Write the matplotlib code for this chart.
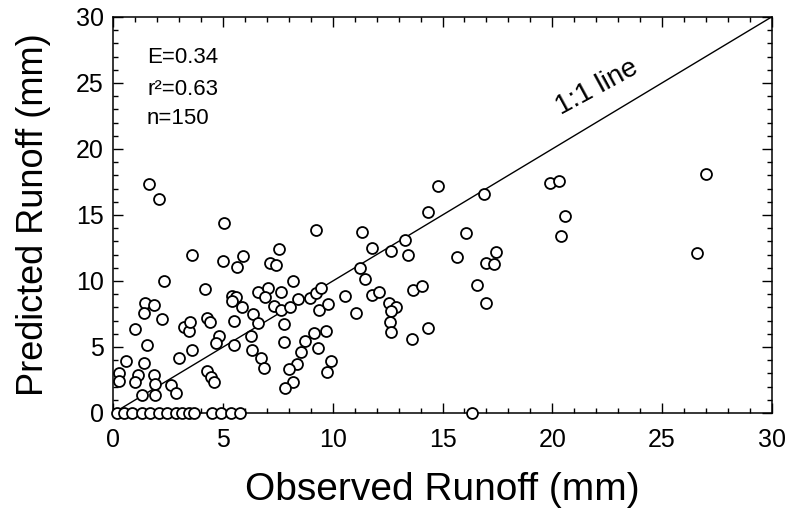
import matplotlib
matplotlib.use("Agg")
import matplotlib.pyplot as plt
from matplotlib.ticker import MultipleLocator

plt.rcParams['font.family'] = ['Liberation Sans', 'DejaVu Sans']

# Observed (x) and predicted (y) runoff, mm
zero_obs = [0.15, 0.46, 0.84, 1.3, 1.68, 2.06, 2.44, 2.83, 3.13, 3.44, 3.66,
            4.5, 4.89, 5.34, 5.77, 16.34]
zero_pred = [0.0] * len(zero_obs)

low_left_obs = [0.23, 0.23, 0.58, 1.1, 0.99, 1.37, 1.53, 1.83, 1.91, 1.3, 1.91,
                2.6, 2.83, 2.98, 3.59]
low_left_pred = [3.0, 2.42, 3.95, 2.88, 2.32, 3.78, 5.13, 2.88, 2.17, 1.4, 1.35,
                 2.12, 1.48, 4.2, 4.8]

mid_left_obs = [1.6, 2.06, 5.04, 3.59, 5.01, 5.92, 5.65, 2.29, 4.17, 1.45, 1.83,
                1.37, 2.21, 0.96, 3.2, 3.44, 3.48, 4.24, 4.4]
mid_left_pred = [17.35, 16.2, 14.4, 12.0, 11.5, 11.9, 11.05, 9.97, 9.39, 8.37, 8.19,
                 7.6, 7.09, 6.33, 6.5, 6.2, 6.9, 7.17, 6.9]

middle_obs = [4.28, 4.43, 4.58, 4.81, 4.66, 5.5, 6.26, 6.3, 6.72, 6.87,
              5.42, 5.57, 5.42, 5.88, 6.57, 7.03, 6.92, 7.63, 7.33, 6.36, 7.63, 8.04,
              5.5, 6.6, 7.78,
              7.53, 7.13, 7.43, 8.17]
middle_pred = [3.19, 2.75, 2.32, 5.8, 5.3, 5.13, 5.8, 4.8, 4.15, 3.44,
               8.9, 8.75, 8.5, 8.03, 9.13, 9.5, 8.8, 9.15, 8.1, 7.47, 7.8, 8.04,
               6.96, 6.83, 6.74,
               12.45, 11.35, 11.2, 9.97]

center_obs = [7.79, 8.37, 7.98, 9.9, 9.74, 8.17, 7.83, 8.55, 9.31, 8.75, 9.16,
              9.67, 9.39, 9.8, 10.54, 9.21, 8.98, 9.24, 9.44, 8.4]
center_pred = [5.4, 3.7, 3.34, 3.96, 3.14, 2.37, 1.86, 4.59, 4.92, 5.48, 6.07,
               6.2, 7.78, 8.29, 8.87, 13.85, 8.7, 9.1, 9.5, 8.65]

right_obs = [11.07, 11.22, 11.45, 11.35, 11.79, 11.79, 12.09, 12.57, 12.87, 12.67,
             12.6, 12.63, 12.67, 13.28, 13.44, 13.67, 14.05, 13.62, 14.32, 14.35,
             14.78, 16.9, 16.06, 15.65, 16.96, 17.33, 17.44, 16.57, 16.98]
right_pred = [7.6, 11.0, 10.15, 13.7, 12.5, 8.95, 9.2, 8.3, 8.0, 7.7,
              6.9, 6.1, 12.3, 13.1, 12.0, 9.3, 9.6, 5.6, 6.45, 15.2,
              17.2, 16.6, 13.6, 11.8, 11.4, 11.3, 12.2, 9.7, 8.3]

far_obs = [19.9, 20.3, 20.57, 20.42, 27.0, 26.6]
far_pred = [17.4, 17.6, 14.9, 13.4, 18.1, 12.1]

observed = (zero_obs + low_left_obs + mid_left_obs + middle_obs + center_obs
            + right_obs + far_obs)
predicted = (zero_pred + low_left_pred + mid_left_pred + middle_pred + center_pred
             + right_pred + far_pred)

one_to_one = [0, 30]
x_ticks = [0, 5, 10, 15, 20, 25, 30]
y_ticks = [0, 5, 10, 15, 20, 25, 30]

fig = plt.figure(figsize=(7.86, 5.12), dpi=100)
ax = fig.add_axes([0.1444, 0.1934, 0.8372, 0.7734])

ax.plot(one_to_one, one_to_one, color='black', lw=1.0, zorder=2)
ax.scatter(observed, predicted, s=62, facecolors='white', edgecolors='black',
           linewidths=1.3, zorder=3, clip_on=False)

ax.set_xlim(0, 30)
ax.set_ylim(0, 30)
ax.set_xticks(x_ticks)
ax.set_yticks(y_ticks)
ax.xaxis.set_minor_locator(MultipleLocator(1))
ax.yaxis.set_minor_locator(MultipleLocator(1))
ax.tick_params(which='both', direction='in', top=True, right=True, width=1.0)
ax.tick_params(which='major', length=7)
ax.tick_params(which='minor', length=3.5)
ax.tick_params(axis='x', which='major', pad=11, labelsize=18)
ax.tick_params(axis='y', which='major', pad=7, labelsize=18)
for sp in ax.spines.values():
    sp.set_linewidth(1.1)

ax.set_xlabel('Observed Runoff (mm)', fontsize=28, labelpad=14)
ax.set_ylabel('Predicted Runoff (mm)', fontsize=26, labelpad=18)

ax.text(0.051, 0.884, 'E=0.34', transform=ax.transAxes, fontsize=16,
        ha='left', va='baseline')
ax.text(0.051, 0.803, 'r²=0.63', transform=ax.transAxes, fontsize=16,
        ha='left', va='baseline')
ax.text(0.051, 0.730, 'n=150', transform=ax.transAxes, fontsize=16,
        ha='left', va='baseline')

ax.text(20.4, 22.6, '1:1 line', fontsize=20, rotation=28.5,
        rotation_mode='anchor', ha='left', va='baseline')

fig.savefig('out.png', dpi=100)
